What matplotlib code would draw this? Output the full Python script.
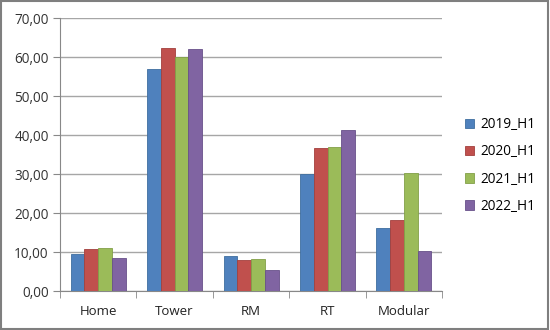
import matplotlib.pyplot as plt
import numpy as np
from matplotlib.patches import Rectangle

# dados do gráfico
categorias = ["Home", "Tower", "RM", "RT", "Modular"]
series = ["2019_H1", "2020_H1", "2021_H1", "2022_H1"]
v2019 = [9.6, 57.0, 8.9, 30.0, 16.2]
v2020 = [10.8, 62.4, 8.0, 36.6, 18.1]
v2021 = [11.0, 60.0, 8.3, 37.0, 30.4]
v2022 = [8.5, 62.0, 5.3, 41.3, 10.2]
yticks = [0, 10, 20, 30, 40, 50, 60, 70]

cores = ["#4F81BD", "#C0504D", "#9BBB59", "#8064A2"]
bordas = ["#3F6E9F", "#A3403E", "#82A048", "#68518A"]

plt.rcParams['font.family'] = ['Open Sans', 'DejaVu Sans']

fig = plt.figure(figsize=(5.5, 3.3), dpi=100)
ax = fig.add_axes([0.109, 0.118, 0.695, 0.827])

x = np.arange(len(categorias))
larg = 0.18
for i, (nome, vals) in enumerate(zip(series, [v2019, v2020, v2021, v2022])):
    ax.bar(x + (i - 1.5) * larg, vals, larg, color=cores[i], edgecolor=bordas[i],
           linewidth=0.6, label=nome, zorder=3)

ax.set_xlim(-0.5, len(categorias) - 0.5)
ax.set_ylim(0, 70)
ax.set_yticks(yticks)
ax.set_yticklabels(["%d,00" % t for t in yticks], fontsize=9.8, color="#333333")
ax.set_xticks(x)
ax.set_xticklabels(categorias, fontsize=9.5, color="#222222")
ax.tick_params(axis="x", length=0, pad=10)
ax.set_xticks(np.arange(-0.5, len(categorias)), minor=True)
ax.tick_params(axis="x", which="minor", length=5, color="#888888", direction="out")
ax.tick_params(axis="y", length=5, color="#888888", direction="out", pad=3)

ax.grid(axis="y", color="#A6A6A6", linewidth=1, zorder=0)
for lado in ["top", "right"]:
    ax.spines[lado].set_visible(False)
ax.spines["left"].set_color("#888888")
ax.spines["bottom"].set_color("#888888")

ax.legend(loc="center left", bbox_to_anchor=(1.045, 0.46), frameon=False, fontsize=9.8,
          borderaxespad=0, handlelength=0.7, handleheight=0.7, handletextpad=0.45,
          labelspacing=0.9)

fig.patches.append(Rectangle((0.002, 0.003), 0.995, 0.993, transform=fig.transFigure,
                             fill=False, edgecolor="#7F7F7F", linewidth=1.5))

fig.savefig("out.png", dpi=100)
